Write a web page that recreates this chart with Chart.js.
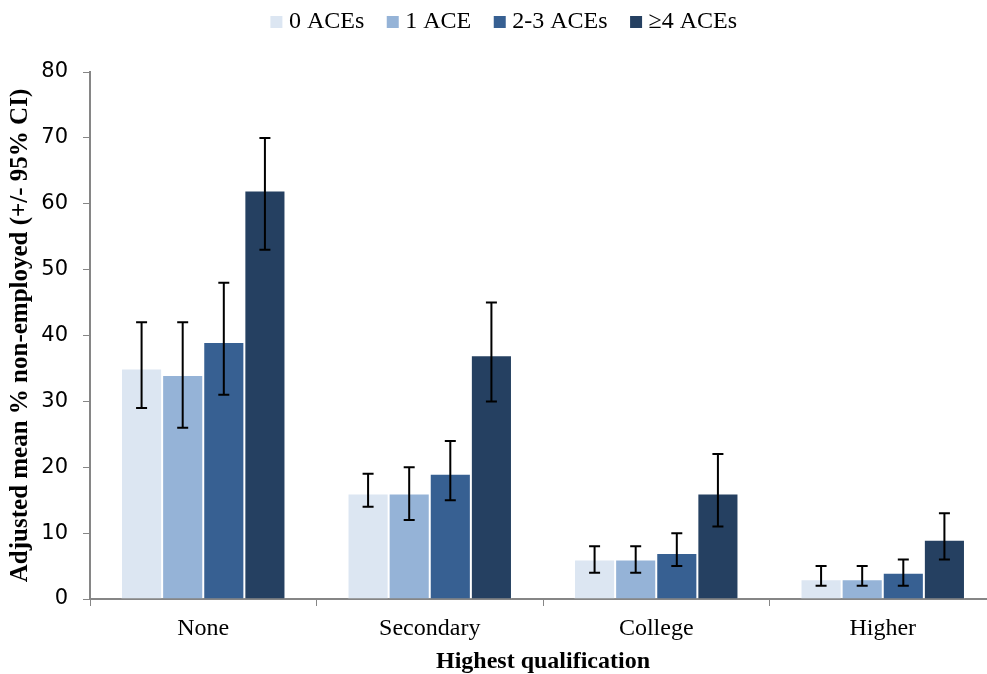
<!DOCTYPE html>
<html>
<head>
<meta charset="utf-8">
<script src="https://cdn.jsdelivr.net/npm/chart.js@4"></script>
<style>
  html, body { margin: 0; padding: 0; background: #fff; overflow: hidden; }
  #wrap { position: relative; width: 996px; height: 674px; }
</style>
</head>
<body>
<div id="wrap"><canvas id="chart"></canvas></div>
<script>
// Data
var categories = ['None', 'Secondary', 'College', 'Higher'];
var seriesNames = ['0 ACEs', '1 ACE', '2-3 ACEs', '\u22654 ACEs'];
var seriesColors = ['#dce6f2', '#95b3d7', '#376092', '#254061'];

var means = [
    [35, 16, 6, 3],
    [34, 16, 6, 3],
    [39, 19, 7, 4],
    [62, 37, 16, 9]
];
var lowerCI = [
    [29, 14, 4, 2],
    [26, 12, 4, 2],
    [31, 15, 5, 2],
    [53, 30, 11, 6]
];
var upperCI = [
    [42, 19, 8, 5],
    [42, 20, 8, 5],
    [48, 24, 10, 6],
    [70, 45, 22, 13]
];
var yTicks = [0, 10, 20, 30, 40, 50, 60, 70, 80];

var serif = '"Liberation Serif", "Times New Roman", serif';
var axisGrey = '#868686';

// draws the 95% CI whiskers on top of each bar
var errorBars = {
    id: 'errorBars',
    afterDatasetsDraw: function(chart) {
        var ctx = chart.ctx;
        var y = chart.scales.y;
        ctx.save();
        ctx.strokeStyle = '#000';
        ctx.lineWidth = 2;
        chart.data.datasets.forEach(function(ds, di) {
            var meta = chart.getDatasetMeta(di);
            meta.data.forEach(function(bar, i) {
                var x = bar.x;
                var top = y.getPixelForValue(upperCI[di][i]);
                var bot = y.getPixelForValue(lowerCI[di][i]);
                ctx.beginPath();
                ctx.moveTo(x, top); ctx.lineTo(x, bot);
                ctx.moveTo(x - 5.5, top); ctx.lineTo(x + 5.5, top);
                ctx.moveTo(x - 5.5, bot); ctx.lineTo(x + 5.5, bot);
                ctx.stroke();
            });
        });
        ctx.restore();
    }
};

var datasets = seriesNames.map(function(name, i) {
    return {
        label: name,
        data: means[i],
        backgroundColor: seriesColors[i],
        borderColor: 'rgba(255,255,255,0.5)',
        borderWidth: 1,
        categoryPercentage: 0.726,
        barPercentage: 1.0
    };
});

new Chart(document.getElementById('chart').getContext('2d'), {
    type: 'bar',
    data: { labels: categories, datasets: datasets },
    options: {
        responsive: true,
        maintainAspectRatio: false,
        animation: false,
        layout: { padding: { top: 0, left: 0, right: 0, bottom: 0 } },
        plugins: {
            tooltip: { enabled: false },
            legend: {
                position: 'top',
                onClick: null,
                labels: {
                    color: '#000',
                    font: { family: serif, size: 24, lineHeight: 1 },
                    usePointStyle: true,
                    pointStyle: 'rect',
                    boxWidth: 1,
                    boxHeight: 12,
                    padding: 10,
                    generateLabels: function(chart) {
                        var items = chart.data.datasets.map(function(ds, i) {
                            var last = i === seriesNames.length - 1;
                            return {
                                text: last ? ds.label + ' ' : ds.label + '   ',
                                fillStyle: ds.backgroundColor,
                                strokeStyle: ds.backgroundColor,
                                lineWidth: 0,
                                pointStyle: 'rect',
                                datasetIndex: i
                            };
                        });
                        // blank lead-in entry, nudges the row right like the original
                        items.unshift({
                            text: '',
                            fillStyle: 'rgba(0,0,0,0)',
                            strokeStyle: 'rgba(0,0,0,0)',
                            lineWidth: 0,
                            pointStyle: 'rect'
                        });
                        return items;
                    }
                }
            }
        },
        scales: {
            // empty top axis, only used as a spacer between legend and plot
            spacer: {
                type: 'category',
                position: 'top',
                labels: categories,
                grid: { display: false },
                border: { display: false },
                ticks: { display: false },
                afterFit: function(scale) { scale.height = 28; }
            },
            x: {
                grid: { display: true, drawOnChartArea: false, drawTicks: true, tickLength: 7, color: axisGrey, offset: true },
                border: { color: axisGrey, width: 2 },
                ticks: { color: '#000', font: { family: serif, size: 24 }, padding: 8 },
                title: {
                    display: true,
                    text: 'Highest qualification',
                    color: '#000',
                    font: { family: serif, size: 24, weight: 'bold', lineHeight: 1 },
                    padding: { top: 4, bottom: 0 }
                },
                afterFit: function(scale) { scale.height = 75; }
            },
            y: {
                min: 0,
                max: 80,
                afterBuildTicks: function(scale) {
                    scale.ticks = yTicks.map(function(v) { return { value: v }; });
                },
                grid: { display: true, drawOnChartArea: false, drawTicks: true, tickLength: 7, color: axisGrey },
                border: { color: axisGrey, width: 2 },
                ticks: { color: '#000', font: { family: '"DejaVu Sans", Verdana, sans-serif', size: 21 }, padding: 15 },
                title: {
                    display: true,
                    text: 'Adjusted mean % non-employed (+/- 95% CI)',
                    color: '#000',
                    font: { family: serif, size: 25, weight: 'bold', lineHeight: 1 },
                    padding: { top: 8, bottom: 0 }
                },
                afterFit: function(scale) { scale.width = 90; }
            }
        }
    },
    plugins: [errorBars]
});
</script>
</body>
</html>
